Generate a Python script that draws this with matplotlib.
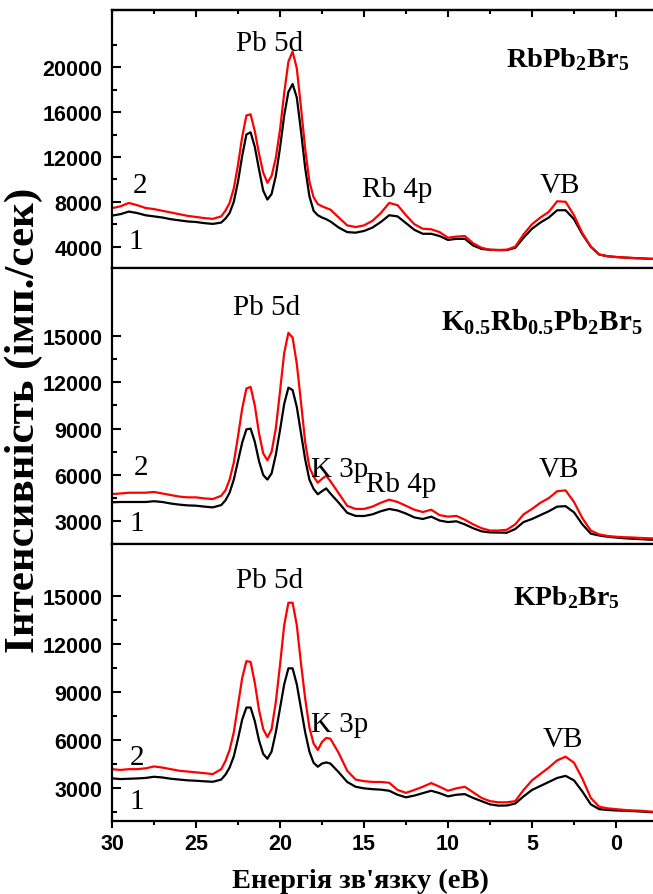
import matplotlib
matplotlib.use("Agg")
import matplotlib.pyplot as plt
from matplotlib.ticker import FixedLocator, MultipleLocator

plt.rcParams['mathtext.fontset'] = 'custom'
plt.rcParams['mathtext.rm'] = 'Liberation Serif'
plt.rcParams['mathtext.bf'] = 'Liberation Serif:bold'
plt.rcParams['mathtext.it'] = 'Liberation Serif:italic'

# Binding energy grid (eV)
energy = [30, 29.5, 29, 28.5, 28, 27.5, 27, 26.5, 26, 25.5, 25, 24.5, 24, 23.5,
          23.25, 23, 22.75, 22.5, 22.25, 22, 21.75, 21.5, 21.25, 21, 20.75, 20.5,
          20.25, 20, 19.75, 19.5, 19.25, 19, 18.75, 18.5, 18.25, 18, 17.75, 17.5,
          17.25, 17, 16.5, 16, 15.5, 15, 14.5, 14, 13.5, 13, 12.5, 12, 11.5, 11,
          10.5, 10, 9.5, 9, 8.5, 8, 7.5, 7, 6.5, 6, 5.5, 5, 4.5, 4, 3.5, 3, 2.5,
          2, 1.5, 1, 0.5, 0, -0.5, -1, -1.5, -2, -2.5]

# RbPb2Br5
rb_curve2 = [7430, 7600, 7900, 7700, 7450, 7350, 7200, 7050, 6900, 6750, 6650, 6550, 6480, 6700,
             7200, 7900, 9200, 11300, 13800, 15700, 15800, 14300, 12300, 10600, 9700, 10300,
             11900, 14400, 17700, 20500, 21400, 19900, 16400, 12700, 9800, 8400, 7800, 7600,
             7450, 7300, 6600, 5900, 5750, 5900, 6300, 7000, 7900, 7700, 6800, 6000, 5600, 5550,
             5300, 4800, 4900, 4950, 4300, 3900, 3730, 3700, 3730, 4000, 5100, 6000, 6600, 7100, 8050, 8000, 6800,
             5200, 4000, 3300, 3150, 3080, 3030, 2990, 2960, 2920, 2900]
rb_curve1 = [6770, 6900, 7130, 7000, 6800, 6700, 6600, 6450, 6350, 6250, 6200, 6100, 6030, 6150,
             6500, 7000, 8000, 9800, 12100, 14000, 14200, 12900, 10900, 9000, 8200, 8700,
             10300, 12800, 15700, 17800, 18500, 17300, 14300, 11000, 8500, 7200, 6800, 6600,
             6450, 6250, 5700, 5300, 5250, 5400, 5700, 6200, 6800, 6700, 6100, 5500, 5150, 5150,
             4950, 4600, 4700, 4700, 4100, 3800, 3720, 3700, 3700, 3900, 4800, 5600, 6150, 6600, 7250, 7250, 6450,
             5100, 4000, 3300, 3150, 3080, 3030, 2990, 2960, 2920, 2900]

# K0.5Rb0.5Pb2Br5
krb_curve2 = [4765, 4800, 4850, 4850, 4850, 4900, 4800, 4700, 4600, 4550, 4550, 4480, 4440, 4650,
              5000, 5700, 6800, 8500, 10300, 11600, 11700, 10500, 8700, 7400, 6950, 7500,
              9000, 11400, 13900, 15200, 14900, 13200, 10700, 8100, 6500, 5900, 5500, 5750,
              5950, 5600, 4800, 4000, 3800, 3800, 3950, 4200, 4400, 4250, 4000, 3750, 3600, 3750,
              3400, 3300, 3350, 3100, 2800, 2550, 2400, 2400, 2450, 2800, 3450, 3800, 4200, 4500, 4950, 5000, 4250,
              3200, 2400, 2150, 2050, 2000, 1970, 1950, 1920, 1900, 1880]
krb_curve1 = [4230, 4250, 4250, 4250, 4250, 4300, 4250, 4150, 4080, 4030, 4010, 3950, 3900, 4050,
              4350, 4850, 5700, 6900, 8100, 8950, 9000, 8150, 6900, 6000, 5700, 6100,
              7300, 8900, 10600, 11650, 11500, 10400, 8700, 7000, 5700, 5100, 4750, 4950,
              5130, 4800, 4200, 3550, 3350, 3340, 3450, 3650, 3800, 3700, 3500, 3250, 3150, 3300,
              3050, 2950, 3000, 2800, 2550, 2350, 2280, 2270, 2260, 2500, 2950, 3150, 3400, 3650, 3950, 3980, 3580,
              2800, 2200, 2080, 2000, 1950, 1900, 1870, 1840, 1810, 1800]

# KPb2Br5
k_curve2 = [4200, 4150, 4200, 4200, 4250, 4370, 4300, 4200, 4100, 4050, 4000, 3950, 3890, 4200,
            4700, 5400, 6500, 8200, 9900, 10950, 10900, 9600, 7900, 6700, 6200, 6700,
            8400, 10700, 13200, 14600, 14600, 13200, 10800, 8600, 6800, 5800, 5400, 5900,
            6150, 6100, 5200, 4100, 3550, 3450, 3400, 3400, 3350, 2900, 2720, 2900, 3100, 3330,
            3100, 2850, 3000, 3100, 2750, 2400, 2200, 2130, 2130, 2200, 2900, 3500, 3900, 4300, 4750, 4980, 4600,
            3600, 2400, 1850, 1750, 1700, 1650, 1620, 1600, 1550, 1520]
k_curve1 = [3625, 3580, 3600, 3620, 3650, 3725, 3680, 3600, 3550, 3500, 3475, 3440, 3410, 3550,
            3850, 4300, 5000, 6100, 7300, 8050, 8050, 7200, 6000, 5150, 4850, 5300,
            6500, 8000, 9500, 10500, 10500, 9500, 8000, 6500, 5300, 4600, 4350, 4550,
            4620, 4550, 4000, 3400, 3100, 3000, 2950, 2920, 2850, 2600, 2440, 2550, 2700, 2850,
            2700, 2500, 2600, 2640, 2400, 2200, 2000, 1920, 1930, 2050, 2500, 2900, 3150, 3400, 3650, 3780, 3500,
            2800, 2000, 1700, 1650, 1620, 1600, 1580, 1550, 1520, 1500]

samples = [r'$\mathbf{RbPb_2Br_5}$', r'$\mathbf{K_{0.5}Rb_{0.5}Pb_2Br_5}$', r'$\mathbf{KPb_2Br_5}$']
curves1 = [rb_curve1, krb_curve1, k_curve1]
curves2 = [rb_curve2, krb_curve2, k_curve2]
ylims = [(2100, 25100), (1530, 19400), (960, 18270)]
major_ticks = [[4000, 8000, 12000, 16000, 20000],
               [3000, 6000, 9000, 12000, 15000],
               [3000, 6000, 9000, 12000, 15000]]
minor_ticks = [[2000, 6000, 10000, 14000, 18000, 22000],
               [1500, 4500, 7500, 10500, 13500],
               [1500, 4500, 7500, 10500, 13500]]

# annotations: (text, x, y)
annotations = [
    [("Pb 5d", 20.6, 21490), ("2", 28.33, 8850), ("1", 28.57, 3880),
     ("Rb 4p", 13.04, 8530), ("VB", 3.33, 8880)],
    [("Pb 5d", 20.8, 16400), ("2", 28.3, 6060), ("1", 28.5, 2440),
     ("K 3p", 16.43, 5930), ("Rb 4p", 12.8, 4960), ("VB", 3.39, 5930)],
    [("Pb 5d", 20.6, 15580), ("2", 28.5, 4520), ("1", 28.5, 1770),
     ("K 3p", 16.43, 6580), ("VB", 3.15, 5640)],
]
sample_pos = [(2.89, 20060), (4.38, 15430), (2.95, 14540)]
sample_sizes = [20.5, 21, 20]

W, H = 653, 895
fig = plt.figure(figsize=(W / 100, H / 100), dpi=100)

panel_px = [(11, 269), (269, 545), (545, 822)]
left_px, right_px = 112, 660
px_per_ev = 16.8
xlim = (30, 30 - (right_px - left_px) / px_per_ev)

tick_font = dict(family='Liberation Sans', weight='bold', size=15.5)

axes = []
for i in range(3):
    top, bot = panel_px[i]
    ax = fig.add_axes([left_px / W, (H - bot) / H, (right_px - left_px) / W, (bot - top) / H])
    axes.append(ax)
    ax.plot(energy, curves1[i], color='black', lw=1.6)
    ax.plot(energy, curves2[i], color='#ff0000', lw=1.6)
    ax.set_xlim(*xlim)
    ax.set_ylim(*ylims[i])
    ax.xaxis.set_major_locator(MultipleLocator(5))
    ax.xaxis.set_minor_locator(MultipleLocator(2.5))
    ax.yaxis.set_major_locator(FixedLocator(major_ticks[i]))
    ax.yaxis.set_minor_locator(FixedLocator(minor_ticks[i]))
    ax.tick_params(axis='x', which='both', direction='out', width=1.5, top=False)
    ax.tick_params(axis='x', which='major', length=5)
    ax.tick_params(axis='x', which='minor', length=3)
    ax.tick_params(axis='y', which='both', direction='in', width=1.5, right=False)
    ax.tick_params(axis='y', which='major', length=6.5, pad=7)
    ax.tick_params(axis='y', which='minor', length=3.5)
    for s in ax.spines.values():
        s.set_linewidth(1.6)
    for lab in ax.get_yticklabels():
        lab.set_fontproperties(matplotlib.font_manager.FontProperties(**tick_font))
    if i < 2:
        ax.tick_params(axis='x', labelbottom=False)
    else:
        ax.tick_params(axis='x', pad=4)
        for lab in ax.get_xticklabels():
            lab.set_fontproperties(matplotlib.font_manager.FontProperties(**tick_font))
    for txt, x, y in annotations[i]:
        ax.text(x, y, txt, ha='center', va='baseline', family='Liberation Serif', size=21)
    sx, sy = sample_pos[i]
    ax.text(sx, sy, samples[i], ha='center', va='baseline', size=sample_sizes[i])

# top ticks on the top panel (pointing inward)
sec = axes[0].secondary_xaxis('top')
sec.xaxis.set_major_locator(MultipleLocator(5))
sec.xaxis.set_minor_locator(MultipleLocator(2.5))
sec.tick_params(axis='x', which='both', direction='in', width=1.5, labeltop=False)
sec.tick_params(axis='x', which='major', length=5)
sec.tick_params(axis='x', which='minor', length=3)
sec.spines['top'].set_linewidth(1.6)

fig.text(24 / W, (H - 420) / H, "Інтенсивність (імп./сек)", rotation=90,
         ha='center', va='center', family='Liberation Serif', weight='bold', size=31)
fig.text(360 / W, (H - 888) / H, "Енергія зв'язку (еВ)", ha='center', va='baseline',
         family='Liberation Serif', weight='bold', size=20.5)

fig.savefig("out.png", dpi=100)
